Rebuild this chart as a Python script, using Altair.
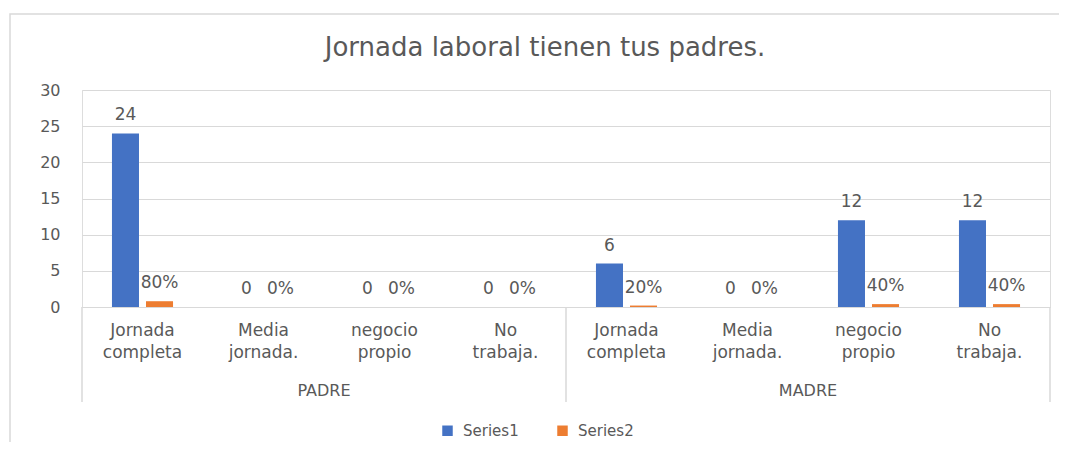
import altair as alt
import pandas as pd

groups = ["PADRE", "PADRE", "PADRE", "PADRE", "MADRE", "MADRE", "MADRE", "MADRE"]
categories = ["Jornada\ncompleta", "Media\njornada.", "negocio\npropio", "No\ntrabaja.",
              "Jornada\ncompleta", "Media\njornada.", "negocio\npropio", "No\ntrabaja."]
series1 = [24, 0, 0, 0, 6, 0, 12, 12]
series2 = [0.8, 0, 0, 0, 0.2, 0, 0.4, 0.4]
series_names = ["Series1", "Series2"]
colors = ["#4472C4", "#ED7D31"]
title_text = "Jornada laboral tienen tus padres."

keys = [f"{g}|{i}" for i, g in enumerate(groups)]

rows = []
for k, g, c, v1, v2 in zip(keys, groups, categories, series1, series2):
    rows.append({"key": k, "group": g, "cat": c, "series": "Series1", "value": v1,
                 "label": f"{v1:g}"})
    rows.append({"key": k, "group": g, "cat": c, "series": "Series2", "value": v2,
                 "label": f"{round(v2 * 100):d}%"})
df = pd.DataFrame(rows)
cats_df = pd.DataFrame({"key": keys, "cat": categories, "group": groups})

PW, PH = 968, 217
FONT = "DejaVu Sans"
TXT = "#595959"
GRID = "#d9d9d9"

xsc = alt.Scale(domain=keys, paddingInner=0, paddingOuter=0)
xoff = alt.XOffset("series:N", scale=alt.Scale(domain=series_names, paddingInner=0.206, paddingOuter=0.88))
yaxis = alt.Axis(values=[0, 5, 10, 15, 20, 25, 30], title=None, domain=False, ticks=False,
                 grid=True, gridColor=GRID, labelColor=TXT, labelFontSize=16,
                 labelFont=FONT, labelPadding=22, labelOverlap=False)
yenc = alt.Y("value:Q", scale=alt.Scale(domain=[0, 30]), axis=yaxis)

border = alt.Chart(alt.Data(values=[{}])).mark_rect(fill="transparent", stroke=GRID, strokeWidth=1.5).encode(
    x=alt.value(-72), x2=alt.value(PW + 40), y=alt.value(-76), y2=alt.value(PH + 220))

title = alt.Chart(alt.Data(values=[{"t": title_text}])).mark_text(
    fontSize=26, font=FONT, color=TXT, baseline="middle", align="center").encode(
    x=alt.value(463), y=alt.value(-42), text="t:N")

bars = alt.Chart(df).mark_bar().encode(
    x=alt.X("key:N", scale=xsc, axis=None),
    xOffset=xoff,
    y=yenc,
    color=alt.Color("series:N", scale=alt.Scale(domain=series_names, range=colors),
                    legend=alt.Legend(title=None, orient="none", direction="horizontal",
                                      legendX=358, legendY=333, symbolType="square",
                                      symbolSize=110, symbolStrokeWidth=0, labelFontSize=15,
                                      labelFont=FONT, labelColor=TXT, columnPadding=36,
                                      labelOffset=8)),
)

labels = alt.Chart(df).mark_text(baseline="alphabetic", dy=-13, fontSize=17, font=FONT, color=TXT).encode(
    x=alt.X("key:N", scale=xsc, axis=None),
    xOffset=xoff,
    y=yenc,
    text="label:N",
)

cat_labels = alt.Chart(cats_df).mark_text(baseline="top", lineBreak="\n", lineHeight=22, fontSize=17,
                                          font=FONT, color=TXT, align="center").encode(
    x=alt.X("key:N", scale=xsc, axis=None),
    y=alt.value(PH + 16),
    text="cat:N",
)

grp_df = cats_df.iloc[[1, 5]]
grp_labels = alt.Chart(grp_df).mark_text(baseline="middle", fontSize=16, font=FONT, color=TXT).encode(
    x=alt.X("key:N", scale=xsc, axis=None, bandPosition=1),
    y=alt.value(PH + 84),
    text="group:N",
)

sep_left = alt.Chart(cats_df.iloc[[0, 4]]).mark_rule(color=GRID, strokeWidth=1.5).encode(
    x=alt.X("key:N", scale=xsc, axis=None, bandPosition=0),
    y=alt.value(PH), y2=alt.value(PH + 95),
)
sep_right = alt.Chart(alt.Data(values=[{}])).mark_rule(color=GRID, strokeWidth=1.5).encode(
    x=alt.value(PW),
    y=alt.value(PH), y2=alt.value(PH + 95),
)

chart = alt.layer(border, title, sep_left, sep_right, bars, labels, cat_labels, grp_labels).properties(
    width=PW, height=PH,
    autosize=alt.AutoSizeParams(type="none"),
    padding={"left": 74, "top": 82, "right": 9, "bottom": 135},
).configure_view(strokeWidth=0, stroke="transparent").configure(background="white")

chart.save("out.html", embed_options={"renderer": "svg", "actions": False})
